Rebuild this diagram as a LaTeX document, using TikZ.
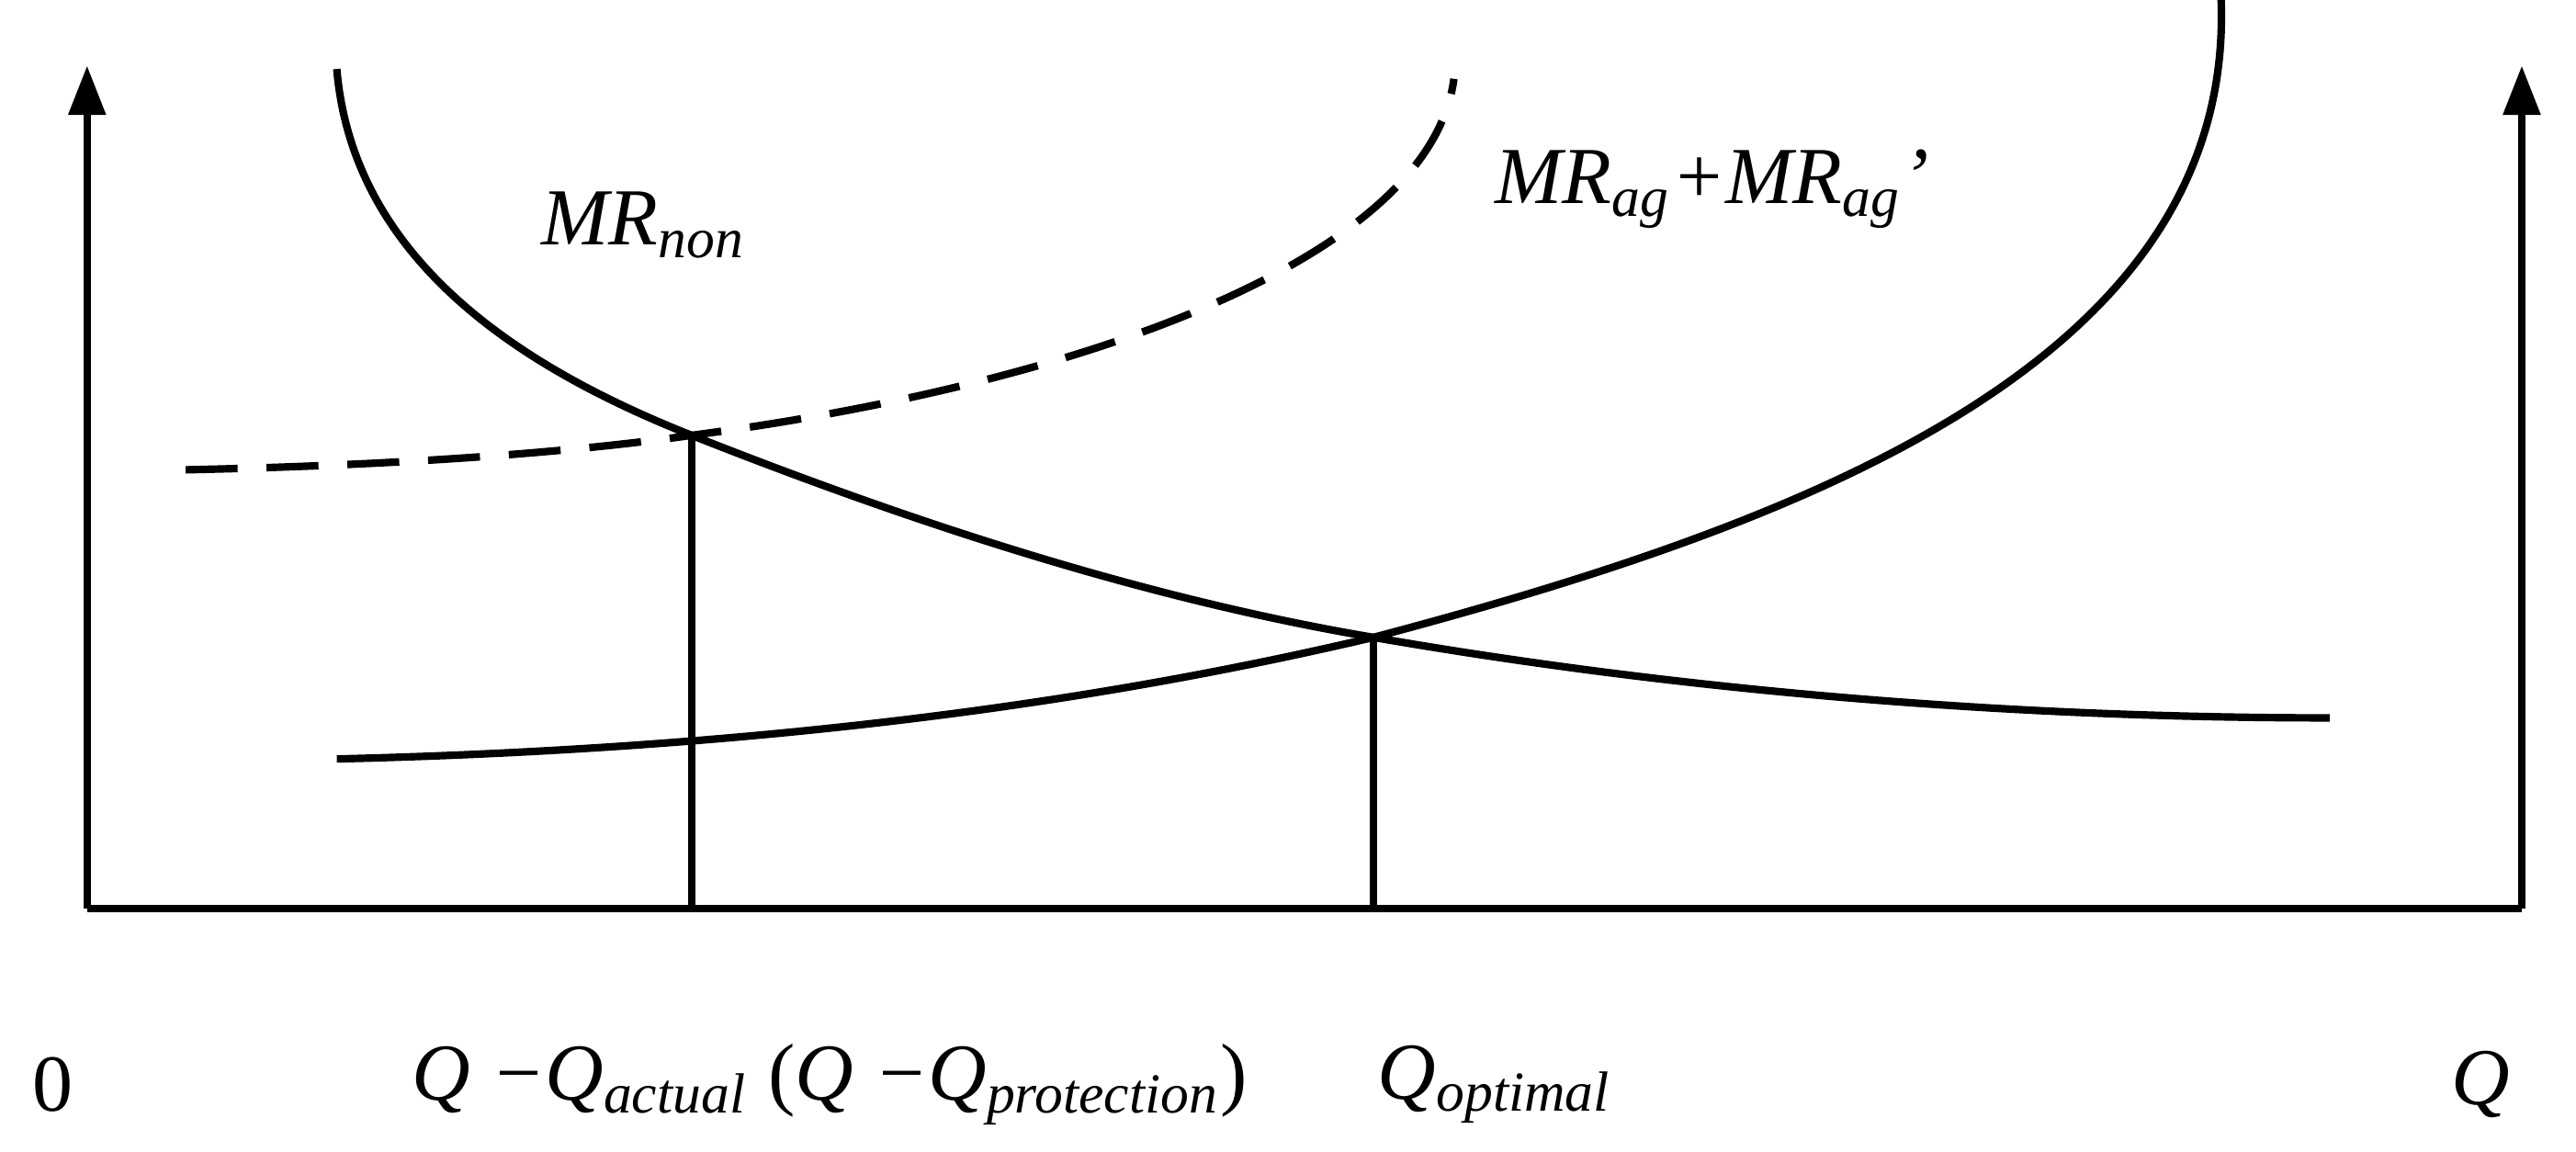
\documentclass[tikz,border=0pt]{standalone}
\usepackage{fontspec}
\setmainfont{Liberation Serif}
\usetikzlibrary{arrows.meta}
\begin{document}
\begin{tikzpicture}[x=0.01cm,y=-0.01cm,
  curve/.style={line width=1.3pt},
  axis/.style={line width=1.3pt,-{Triangle[length=0.3cm,width=0.22cm]}},
  lbl/.style={font=\fontsize{14}{16}\selectfont\itshape,inner sep=0pt}]
\useasboundingbox (0,0) rectangle (1568,701);
\coordinate (O) at (53,553);
\coordinate (Ltop) at (53,40);
\coordinate (R) at (1535,553);
\coordinate (Rtop) at (1535,40);
\coordinate (A) at (421,265);
\coordinate (Abot) at (421,553);
\coordinate (B) at (836,388);
\coordinate (Bbot) at (836,553);
\draw[axis] (O) -- (Ltop);
\draw[axis] (R) -- (Rtop);
\draw[curve] (O) -- (R);
\draw[curve] (A) -- (Abot);
\draw[curve] (B) -- (Bbot);
\draw[curve] (205,42) .. controls (215,160) and (320,225) .. (A)
  .. controls (560,320) and (700,365) .. (B)
  .. controls (1050,425) and (1250,437) .. (1418,437);
\draw[curve] (205,462) .. controls (500,455) and (700,420) .. (B)
  .. controls (1100,318) and (1360,220) .. (1352,0);
\draw[curve,dash pattern=on 9pt off 5pt] (113,286) .. controls (250,283) and (350,275) .. (A)
  .. controls (650,235) and (870,160) .. (885,48);
\node[lbl] (mrnon) at (392,137) {MR\textsubscript{non}};
\node[lbl] (mrag) at (1042,115) {MR\textsubscript{ag}+MR\textsubscript{ag}’};
\node[lbl,font=\fontsize{14}{16}\selectfont] (zero) at (32,660) {0};
\node[lbl] (qa) at (505,660) {Q −Q\textsubscript{actual} \upshape(\itshape Q −Q\textsubscript{protection}\upshape)};
\node[lbl] (qo) at (910,660) {Q\textsubscript{optimal}};
\node[lbl] (q) at (1510,660) {Q};
\end{tikzpicture}
\end{document}
